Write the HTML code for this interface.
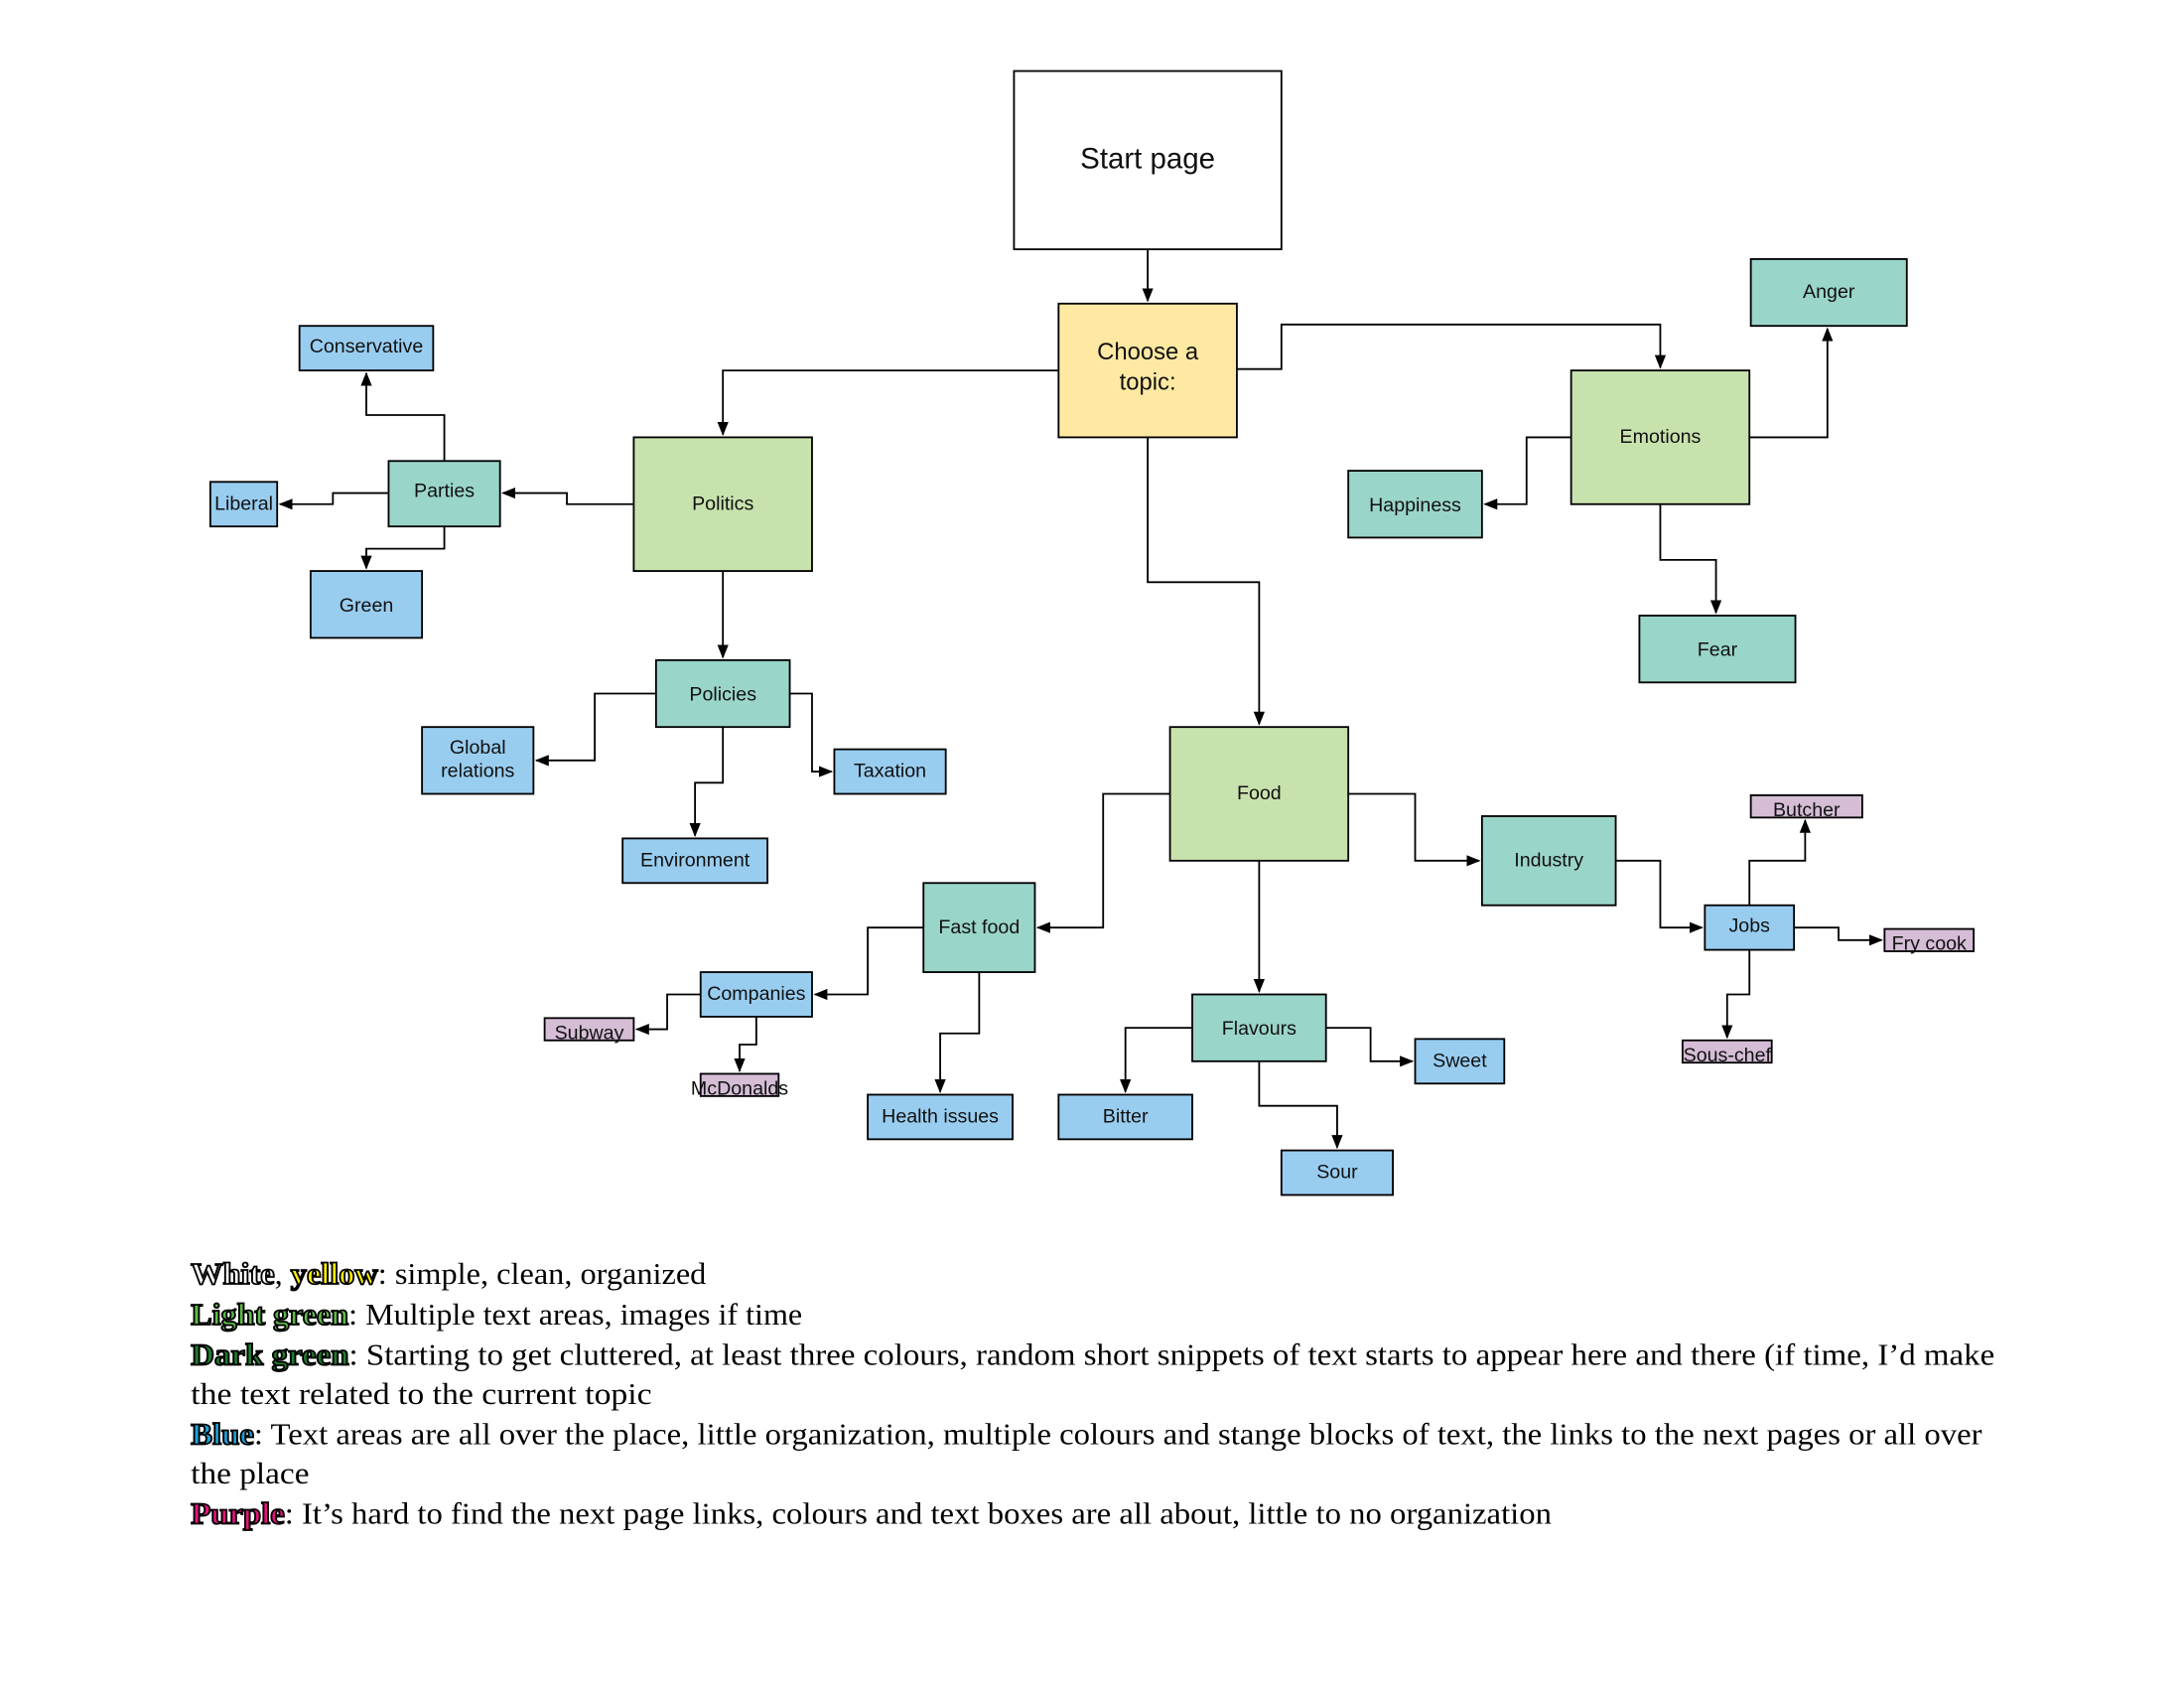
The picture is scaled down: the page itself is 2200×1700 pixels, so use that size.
<!DOCTYPE html>
<html><head><meta charset="utf-8"><style>
html,body{margin:0;padding:0;background:#fff;}
svg{display:block;}
.b{stroke:#000;stroke-width:1.3;}
.t{font-family:"Liberation Sans",sans-serif;font-size:14px;text-anchor:middle;fill:#111;}
.e{fill:none;stroke:#000;stroke-width:1.3;}
.lg{font-family:"Liberation Serif",serif;font-size:22px;fill:#000;}
.o{stroke:#000;stroke-width:1.3;font-weight:bold;}
</style></head><body>
<svg width="2200" height="1700" viewBox="0 0 1568 1212" preserveAspectRatio="none" xmlns="http://www.w3.org/2000/svg">
<defs><marker id="a" markerWidth="10" markerHeight="10" refX="9" refY="5" orient="auto" markerUnits="userSpaceOnUse"><path d="M0,1 L10,5 L0,9 Z" fill="#000"/></marker></defs>
<g class="b">
<rect x="728" y="51" width="192" height="128" fill="#fff"/>
<rect x="760" y="218" width="128" height="96" fill="#FFE9A2"/>
<rect x="1257" y="186" width="112" height="48" fill="#9AD5C9"/>
<rect x="1128" y="266" width="128" height="96" fill="#C8E2AE"/>
<rect x="968" y="338" width="96" height="48" fill="#9AD5C9"/>
<rect x="1177" y="442" width="112" height="48" fill="#9AD5C9"/>
<rect x="215" y="234" width="96" height="32" fill="#99CDF0"/>
<rect x="279" y="331" width="80" height="47" fill="#9AD5C9"/>
<rect x="151" y="346" width="48" height="32" fill="#99CDF0"/>
<rect x="223" y="410" width="80" height="48" fill="#99CDF0"/>
<rect x="455" y="314" width="128" height="96" fill="#C8E2AE"/>
<rect x="471" y="474" width="96" height="48" fill="#9AD5C9"/>
<rect x="303" y="522" width="80" height="48" fill="#99CDF0"/>
<rect x="599" y="538" width="80" height="32" fill="#99CDF0"/>
<rect x="447" y="602" width="104" height="32" fill="#99CDF0"/>
<rect x="840" y="522" width="128" height="96" fill="#C8E2AE"/>
<rect x="1064" y="586" width="96" height="64" fill="#9AD5C9"/>
<rect x="1257" y="571" width="80" height="16" fill="#D5BDD6"/>
<rect x="1224" y="650" width="64" height="32" fill="#99CDF0"/>
<rect x="1353" y="667" width="64" height="16" fill="#D5BDD6"/>
<rect x="1208" y="747" width="64" height="16" fill="#D5BDD6"/>
<rect x="663" y="634" width="80" height="64" fill="#9AD5C9"/>
<rect x="503" y="698" width="80" height="32" fill="#99CDF0"/>
<rect x="391" y="731" width="64" height="16" fill="#D5BDD6"/>
<rect x="503" y="771" width="56" height="16" fill="#D5BDD6"/>
<rect x="623" y="786" width="104" height="32" fill="#99CDF0"/>
<rect x="856" y="714" width="96" height="48" fill="#9AD5C9"/>
<rect x="1016" y="746" width="64" height="32" fill="#99CDF0"/>
<rect x="760" y="786" width="96" height="32" fill="#99CDF0"/>
<rect x="920" y="826" width="80" height="32" fill="#99CDF0"/>
</g>
<g class="e" marker-end="url(#a)">
<polyline points="824,179 824,216"/>
<polyline points="888,265 920,265 920,233 1192,233 1192,264"/>
<polyline points="760,266 519,266 519,312"/>
<polyline points="824,314 824,418 904,418 904,520"/>
<polyline points="1256,314 1312,314 1312,236"/>
<polyline points="1128,314 1096,314 1096,362 1066,362"/>
<polyline points="1192,362 1192,402 1232,402 1232,440"/>
<polyline points="455,362 407,362 407,354 361,354"/>
<polyline points="319,331 319,298 263,298 263,268"/>
<polyline points="279,354 239,354 239,362 201,362"/>
<polyline points="319,378 319,394 263,394 263,408"/>
<polyline points="519,410 519,472"/>
<polyline points="471,498 427,498 427,546 385,546"/>
<polyline points="567,498 583,498 583,554 597,554"/>
<polyline points="519,522 519,562 499,562 499,600"/>
<polyline points="968,570 1016,570 1016,618 1062,618"/>
<polyline points="840,570 792,570 792,666 745,666"/>
<polyline points="904,618 904,712"/>
<polyline points="1160,618 1192,618 1192,666 1222,666"/>
<polyline points="1256,650 1256,618 1296,618 1296,589"/>
<polyline points="1288,666 1320,666 1320,675 1351,675"/>
<polyline points="1256,682 1256,714 1240,714 1240,745"/>
<polyline points="663,666 623,666 623,714 585,714"/>
<polyline points="703,698 703,742 675,742 675,784"/>
<polyline points="503,714 479,714 479,739 457,739"/>
<polyline points="543,730 543,750 531,750 531,769"/>
<polyline points="856,738 808,738 808,784"/>
<polyline points="952,738 984,738 984,762 1014,762"/>
<polyline points="904,762 904,794 960,794 960,824"/>
</g>
<g class="t">
<text x="824" y="121" style="font-size:21px">Start page</text>
<text x="824" y="258" style="font-size:17px">Choose a</text>
<text x="824" y="280" style="font-size:17px">topic:</text>
<text x="1313" y="214">Anger</text>
<text x="1192" y="318">Emotions</text>
<text x="1016" y="367">Happiness</text>
<text x="1233" y="471">Fear</text>
<text x="263" y="253">Conservative</text>
<text x="319" y="357">Parties</text>
<text x="175" y="366">Liberal</text>
<text x="263" y="439">Green</text>
<text x="519" y="366">Politics</text>
<text x="519" y="503">Policies</text>
<text x="343" y="541">Global</text>
<text x="343" y="558">relations</text>
<text x="639" y="558">Taxation</text>
<text x="499" y="622">Environment</text>
<text x="904" y="574">Food</text>
<text x="1112" y="622">Industry</text>
<text x="1297" y="586">Butcher</text>
<text x="1256" y="669">Jobs</text>
<text x="1385" y="682">Fry cook</text>
<text x="1240" y="762">Sous-chef</text>
<text x="703" y="670">Fast food</text>
<text x="543" y="718">Companies</text>
<text x="423" y="746">Subway</text>
<text x="531" y="786">McDonalds</text>
<text x="675" y="806">Health issues</text>
<text x="904" y="743">Flavours</text>
<text x="1048" y="766">Sweet</text>
<text x="808" y="806">Bitter</text>
<text x="960" y="846">Sour</text>
</g>
<g class="lg">
<text x="137" y="922" textLength="370" lengthAdjust="spacingAndGlyphs"><tspan class="o" fill="#fff">White</tspan>, <tspan class="o" fill="#FFF200">yellow</tspan>: simple, clean, organized</text>
<text x="137" y="951" textLength="439" lengthAdjust="spacingAndGlyphs"><tspan class="o" fill="#5DBB46">Light green</tspan>: Multiple text areas, images if time</text>
<text x="137" y="980" textLength="1295" lengthAdjust="spacingAndGlyphs"><tspan class="o" fill="#1E7A2E">Dark green</tspan>: Starting to get cluttered, at least three colours, random short snippets of text starts to appear here and there (if time, I’d make</text>
<text x="137" y="1008" textLength="331" lengthAdjust="spacingAndGlyphs">the text related to the current topic</text>
<text x="137" y="1037" textLength="1286" lengthAdjust="spacingAndGlyphs"><tspan class="o" fill="#1BA3DB">Blue</tspan>: Text areas are all over the place, little organization, multiple colours and stange blocks of text, the links to the next pages or all over</text>
<text x="137" y="1065" textLength="85" lengthAdjust="spacingAndGlyphs">the place</text>
<text x="137" y="1094" textLength="977" lengthAdjust="spacingAndGlyphs"><tspan class="o" fill="#E6127D">Purple</tspan>: It’s hard to find the next page links, colours and text boxes are all about, little to no organization</text>
</g>
</svg>
</body></html>
